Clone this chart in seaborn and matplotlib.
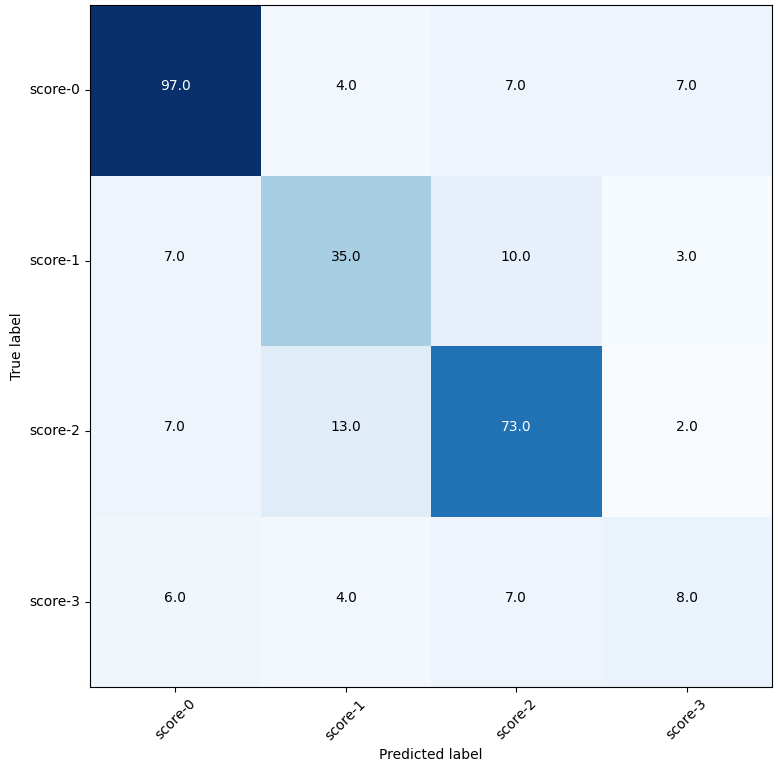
import numpy as np
import pandas as pd
import matplotlib
matplotlib.use("Agg")
import matplotlib.pyplot as plt
import seaborn as sns

labels = ["score-0", "score-1", "score-2", "score-3"]
row0 = [97, 4, 7, 7]
row1 = [7, 35, 10, 3]
row2 = [7, 13, 73, 2]
row3 = [6, 4, 7, 8]

cm = np.array([row0, row1, row2, row3], dtype=float)
df = pd.DataFrame(cm, index=labels, columns=labels)

fig = plt.figure(figsize=(7.78, 7.68), dpi=100)
ax = fig.add_axes([90/778, 1-687/768, 682/778, 682/768])
sns.heatmap(df, cmap="Blues", cbar=False, annot=False, ax=ax, square=False)

thresh = cm.max() / 2.0
for i in range(cm.shape[0]):
    for j in range(cm.shape[1]):
        ax.text(j + 0.5, i + 0.5, f"{cm[i, j]:.1f}", ha="center", va="baseline",
                color="white" if cm[i, j] > thresh else "black", fontsize=10)

for s in ax.spines.values():
    s.set_visible(True)
    s.set_color("black")
    s.set_linewidth(0.8)

ax.set_xlabel("Predicted label", fontsize=10)
ax.set_ylabel("True label", fontsize=10)
ax.set_xticklabels(labels, rotation=45, fontsize=10)
ax.set_yticklabels(labels, rotation=0, fontsize=10)
ax.tick_params(length=3.5, width=0.8)

fig.savefig("out.png", dpi=100)
